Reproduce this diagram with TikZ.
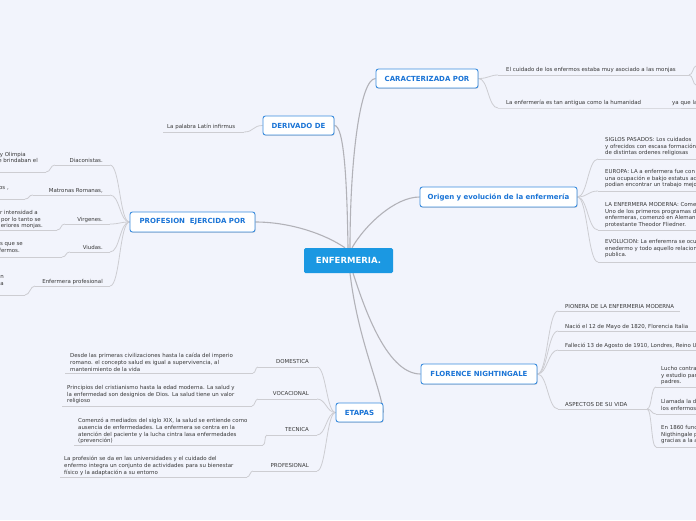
\documentclass[tikz,border=0pt]{standalone}
\usepackage{fontspec}
\setmainfont{DejaVu Sans}
\usetikzlibrary{shadows}
\definecolor{bgc}{RGB}{242,244,252}
\definecolor{hub}{RGB}{27,152,226}
\definecolor{tblue}{RGB}{26,116,214}
\definecolor{tborder}{RGB}{58,140,222}
\definecolor{txt}{RGB}{55,55,55}
\definecolor{ln}{RGB}{205,205,210}
\definecolor{mln}{RGB}{178,178,184}
\pgfdeclarelayer{back}
\pgfsetlayers{back,main}
\tikzset{
 hubnode/.style={fill=hub, text=white, font=\fontsize{8.5}{10}\selectfont\bfseries, rounded corners=1.5pt, minimum width=89pt, minimum height=25pt, inner sep=0pt},
 topic/.style={draw=tborder, fill=white, line width=0.9pt, rounded corners=2.5pt, text=tblue, font=\fontsize{7}{8}\selectfont\bfseries, minimum height=19pt, inner sep=0pt, drop shadow={shadow xshift=0.6pt, shadow yshift=-0.8pt, opacity=0.25, fill=black!60}},
 leaf/.style={anchor=north west, inner sep=0pt, text=txt, font=\fontsize{5.45}{6.8}\selectfont, align=left},
 leafr/.style={anchor=base east, inner sep=0pt, text=txt, font=\fontsize{5.45}{6.8}\selectfont},
 ul/.style={draw=ln, line width=0.8pt},
 conn/.style={draw=ln, line width=0.8pt},
 mconn/.style={draw=mln, line width=1.1pt},
}
\begin{document}
\begin{tikzpicture}[x=1pt,y=-1pt]
\useasboundingbox (0,0) rectangle (696,520);
\begin{pgfonlayer}{back}
\fill[bgc] (0,0) rectangle (696,520);
\end{pgfonlayer}
\clip (0,0) rectangle (696,520);

% main topics
\node[hubnode] (E) at (348.5,260.5) {ENFERMERIA.};
\node[topic, minimum width=71pt] (DER) at (298.5,125.5) {DERIVADO DE};
\node[topic, minimum width=102pt] (CAR) at (427,78.5) {CARACTERIZADA POR};
\node[topic, minimum width=157pt, minimum height=20pt] (ORI) at (498.5,197) {Origen y evolución de la enfermería};
\node[topic, minimum width=125pt, minimum height=20pt] (PROF) at (192.5,222) {PROFESION\ \ EJERCIDA POR};
\node[topic, minimum width=116pt, minimum height=20pt] (FLO) at (479,374) {FLORENCE NIGHTINGALE};
\node[topic, minimum width=47pt] (ETA) at (359.5,412.5) {ETAPAS};

% CARACTERIZADA POR
\node[leaf] (c1) at (506,67) {El cuidado de los enfermos estaba muy asociado a las monjas};
\node[leaf] (c2) at (506,100.3) {La enfermería es tan antigua como la humanidad};
\node[leaf] (c3) at (672,100.3) {ya que la};
\coordinate (c1a) at (498,75); \coordinate (c1b) at (689,75);
\coordinate (c1u) at (696,66); \coordinate (c1d) at (696,85);
\coordinate (c2a) at (498,108); \coordinate (c2b) at (666,108); \coordinate (c3b) at (696,108);

% DERIVADO DE
\node[leaf] (d1) at (167,124) {La palabra Latín infirmus};
\coordinate (d1a) at (163,132); \coordinate (d1b) at (244,132);

% PROFESION EJERCIDA POR
\node[leafr] (p1) at (103,162) {Diaconistas.};
\node[leafr] (p2) at (103,192) {Matronas Romanas,};
\node[leafr] (p3) at (103,221) {Virgenes.};
\node[leafr] (p4) at (103,249) {Viudas.};
\node[leafr] (p5) at (103,283) {Enfermera profesional};
\node[leafr] (q1a) at (26,156) {y Olimpia};
\node[leafr] (q1b) at (38,162) {e brindaban el};
\node[leafr] (q2a) at (9,189) {os ,};
\node[leafr] (q3a) at (38,214) {r intensidad a};
\node[leafr] (q3b) at (41,221) {por lo tanto se};
\node[leafr] (q3c) at (43,227) {eriores monjas.};
\node[leafr] (q4a) at (23,245) {s que se};
\node[leafr] (q4b) at (20,252) {fermos.};
\node[leafr] (q5a) at (4,278) {n};
\node[leafr] (q5b) at (4,285) {a};
\coordinate (p1a) at (55,165); \coordinate (p1b) at (110,165); \coordinate (p1s) at (46,172); \coordinate (p1z) at (0,172);
\coordinate (p2a) at (33,195); \coordinate (p2b) at (110,195); \coordinate (p2s) at (25,199); \coordinate (p2z) at (0,199);
\coordinate (p3a) at (65,224); \coordinate (p3b) at (110,224); \coordinate (p3s) at (57,230); \coordinate (p3z) at (0,230);
\coordinate (p4a) at (70,252); \coordinate (p4b) at (110,252); \coordinate (p4s) at (62,257); \coordinate (p4z) at (0,257);
\coordinate (p5a) at (35,286); \coordinate (p5b) at (110,286); \coordinate (p5s) at (25,295); \coordinate (p5z) at (0,295);

% ETAPAS
\node[leafr] (e1) at (309,363) {DOMESTICA};
\node[leafr] (e2) at (309,395) {VOCACIONAL};
\node[leafr] (e3) at (309,431) {TECNICA};
\node[leafr] (e4) at (309,467) {PROFESIONAL};
\node[leaf] (s1) at (70,353) {Desde las primeras civilizaciones hasta la caída del imperio\\romano. el concepto salud es igual a supervivencia, al\\mantenimiento de la vida};
\node[leaf] (s2) at (67,385) {Principios del cristianismo hasta la edad moderna. La salud y\\la enfermedad son designios de Dios. La salud tiene un valor\\religioso};
\node[leaf] (s3) at (78,418) {Comenzó a mediados del siglo XIX, la salud se entiende como\\ausencia de enfermedades. La enfermera se centra en la\\atención del paciente y la lucha cintra lasa enfermedades\\(prevención)};
\node[leaf] (s4) at (64,456) {La profesión se da en las universidades y el cuidado del\\enfermo integra un conjunto de actividades para su bienestar\\físico y la adaptación a su entorno};
\coordinate (e1a) at (258,367); \coordinate (e1b) at (317,367); \coordinate (s1a) at (65,373); \coordinate (s1b) at (253,373);
\coordinate (e2a) at (258,399); \coordinate (e2b) at (317,399); \coordinate (s2a) at (62,406); \coordinate (s2b) at (252,406);
\coordinate (e3a) at (267,435); \coordinate (e3b) at (317,435); \coordinate (s3a) at (74,445); \coordinate (s3b) at (263,445);
\coordinate (e4a) at (253,471); \coordinate (e4b) at (317,471); \coordinate (s4a) at (60,477); \coordinate (s4b) at (247,477);

% ORIGEN
\node[leaf] (o1) at (605,137) {SIGLOS PASADOS: Los cuidados\\y ofrecidos con escasa formación\\de distintas ordenes religiosas};
\node[leaf] (o2) at (605,169) {EUROPA: LA a enfermera fue con\\una ocupación e bakjo estatus ac\\podian encontrar un trabajo mejo};
\node[leaf] (o3) at (605,202) {LA ENFERMERA MODERNA: Come\\Uno de los primeros programas d\\enfermeras, comenzó en Aleman\\protestante Theodor Fliedner.};
\node[leaf] (o4) at (605,239) {EVOLUCION: La enferemra se ocu\\enedermo y todo aquello relacion\\publica.};
\coordinate (o1a) at (598,159); \coordinate (o1b) at (696,159);
\coordinate (o2a) at (598,191); \coordinate (o2b) at (696,191);
\coordinate (o3a) at (598,230); \coordinate (o3b) at (696,230);
\coordinate (o4a) at (598,262); \coordinate (o4b) at (696,262);

% FLORENCE
\node[leaf] (f1) at (565,304) {PIONERA DE LA ENFERMERIA MODERNA};
\node[leaf] (f2) at (565,324) {Nació el 12 de Mayo de 1820, Florencia Italia};
\node[leaf] (f3) at (565,343) {Falleció 13 de Agosto de 1910, Londres, Reino U};
\node[leaf] (f4) at (565,402) {ASPECTOS DE SU VIDA};
\node[leaf] (a1) at (661,366) {Lucho contra\\y estudio par\\padres.};
\node[leaf] (a2) at (661,399) {Llamada la d\\los enfermos};
\node[leaf] (a3) at (661,425) {En 1860 func\\Nigthingale p\\gracias a la a};
\coordinate (f1a) at (558,311); \coordinate (f1b) at (680,311);
\coordinate (f2a) at (558,331); \coordinate (f2b) at (696,331);
\coordinate (f3a) at (558,350); \coordinate (f3b) at (696,350);
\coordinate (f4a) at (558,409); \coordinate (f4b) at (647,409);
\coordinate (a1a) at (656,387); \coordinate (a1b) at (696,387);
\coordinate (a2a) at (656,414); \coordinate (a2b) at (696,414);
\coordinate (a3a) at (656,447); \coordinate (a3b) at (696,447);

\begin{pgfonlayer}{back}
% hub connectors
\draw[mconn] ([xshift=-3.5pt]E.north) .. controls (325,234) and (290,222) .. (PROF.east);
\draw[mconn] ([xshift=-0.5pt]E.north) .. controls (347,180) and (344,125.5) .. (DER.east);
\draw[mconn] ([xshift=1.5pt]E.north) .. controls (350,160) and (360,78.5) .. (CAR.west);
\draw[mconn] ([xshift=3.5pt]E.north) .. controls (365,225) and (395,197) .. (ORI.west);
\draw[mconn] ([xshift=4.5pt]E.south) .. controls (362,300) and (385,374) .. (FLO.west);
\draw[mconn] ([xshift=1.5pt]E.south) .. controls (358,340) and (380,385) .. (ETA.east);

% CARACTERIZADA
\draw[conn] (CAR.east) .. controls +(10,0) and +(-8,0) .. (c1a);
\draw[conn] (CAR.east) .. controls +(10,0) and +(-10,0) .. (c2a);
\draw[ul] (c1a) -- (c1b);
\draw[ul] (c2a) -- (c2b) -- (c3b);
\draw[conn] (c1b) .. controls +(4,0) and +(-3,0) .. (c1u);
\draw[conn] (c1b) .. controls +(4,0) and +(-3,0) .. (c1d);

% DERIVADO
\draw[ul] (d1a) -- (d1b);
\draw[conn] (DER.west) .. controls +(-10,0) and +(10,0) .. (d1b);

% PROFESION
\foreach \k in {1,...,5}{
  \draw[conn] (PROF.west) .. controls +(-10,0) and +(10,0) .. (p\k b);
  \draw[ul] (p\k a) -- (p\k b);
  \draw[conn] (p\k a) .. controls +(-5,0) and +(5,0) .. (p\k s);
  \draw[ul] (p\k s) -- (p\k z);
}

% ETAPAS
\foreach \k in {1,...,4}{
  \draw[conn] (ETA.west) .. controls +(-9,0) and +(9,0) .. (e\k b);
  \draw[ul] (e\k a) -- (e\k b);
  \draw[conn] (e\k a) .. controls +(-3,0) and +(3,0) .. (s\k b);
  \draw[ul] (s\k a) -- (s\k b);
}

% ORIGEN
\foreach \k in {1,...,4}{
  \draw[conn] (ORI.east) .. controls +(10,0) and +(-10,0) .. (o\k a);
  \draw[ul] (o\k a) -- (o\k b);
}

% FLORENCE
\foreach \k in {1,...,4}{
  \draw[conn] (FLO.east) .. controls +(10,0) and +(-10,0) .. (f\k a);
  \draw[ul] (f\k a) -- (f\k b);
}
\foreach \k in {1,...,3}{
  \draw[conn] (f4b) .. controls +(5,0) and +(-5,0) .. (a\k a);
  \draw[ul] (a\k a) -- (a\k b);
}
\end{pgfonlayer}
\end{tikzpicture}
\end{document}
